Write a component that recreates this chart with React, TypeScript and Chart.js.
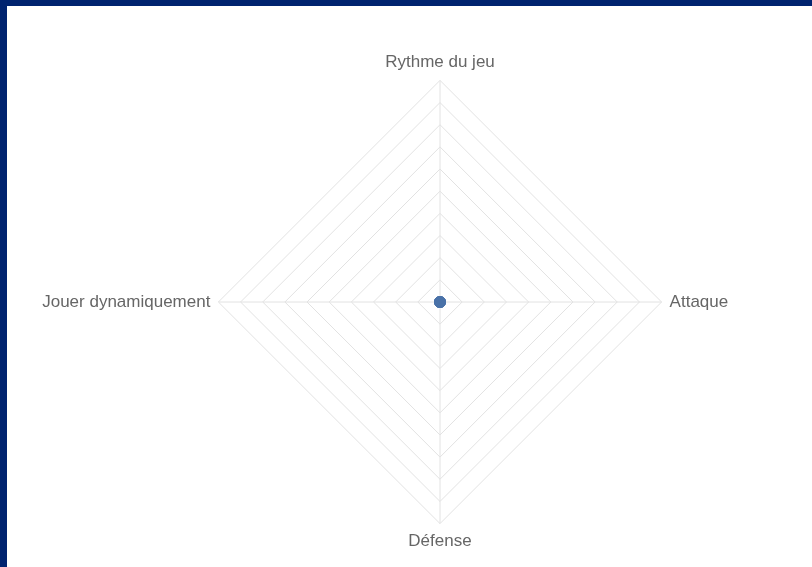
import React, { useEffect, useRef } from "react";
import { Chart, registerables } from "chart.js";

Chart.register(...registerables);

const categories = ["Rythme du jeu", "Attaque", "Défense", "Jouer dynamiquement"];
const seriesValues = [0, 0, 0, 0];
const scaleMin = 0;
const scaleMax = 10;
const scaleStep = 1;

export default function App() {
  const ref = useRef<HTMLCanvasElement>(null);
  useEffect(() => {
    document.body.style.margin = "0";
    document.body.style.background = "#00236f";
    const chart = new Chart(ref.current!, {
      type: "radar",
      data: {
        labels: categories,
        datasets: [
          {
            label: "Profil",
            data: seriesValues,
            backgroundColor: "rgba(74,114,168,0.2)",
            borderColor: "#4a72a8",
            borderWidth: 1,
            pointBackgroundColor: "#4a72a8",
            pointBorderColor: "#4a72a8",
            pointRadius: 5.5,
          },
        ],
      },
      options: {
        animation: false,
        responsive: false,
        maintainAspectRatio: false,
        layout: { padding: { top: 46, bottom: 15, left: 0, right: 0 } },
        plugins: { legend: { display: false }, tooltip: { enabled: false } },
        scales: {
          r: {
            min: scaleMin,
            max: scaleMax,
            ticks: { display: false, stepSize: scaleStep },
            grid: { color: "#e2e2e2", lineWidth: 1 },
            angleLines: { color: "#e2e2e2", lineWidth: 1 },
            pointLabels: {
              color: "#666666",
              padding: 8,
              font: { family: "'Liberation Sans', Arial, sans-serif", size: 17 },
            },
          },
        },
      },
    });
    return () => chart.destroy();
  }, []);
  return (
    <div style={{ position: "absolute", left: 7, top: 6, width: 805, height: 561, background: "#ffffff", overflow: "hidden" }}>
      <canvas ref={ref} width={805} height={561} style={{ display: "block", marginLeft: 19 }} />
    </div>
  );
}
